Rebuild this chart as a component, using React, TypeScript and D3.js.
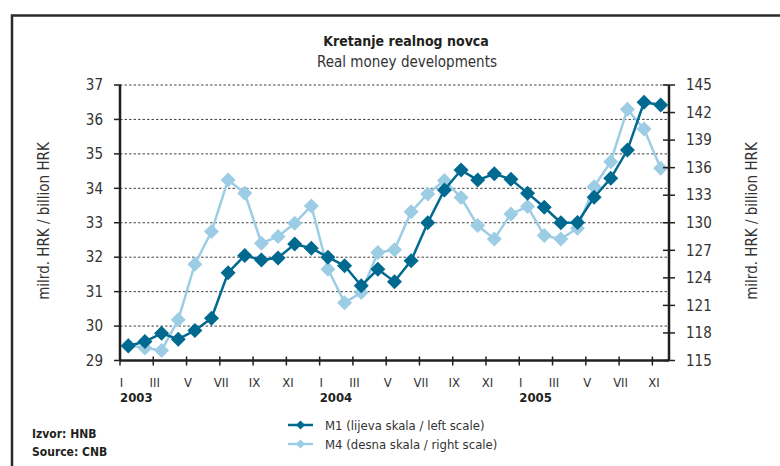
import React from "react";
import * as d3 from "d3";

// monthly data, Jan 2003 - Sep 2005
const months = d3.range(33);

const m1 = [
  29.42, 29.55, 29.79, 29.62, 29.87, 30.23, 31.55, 32.05, 31.92, 31.98, 32.38, 32.26,
  32.0, 31.75, 31.17, 31.65, 31.29, 31.9, 33.0, 33.95, 34.53, 34.24, 34.42, 34.26,
  33.86, 33.45, 33.0, 33.01, 33.74, 34.29, 35.11, 36.5, 36.42,
];

const m4 = [
  116.7, 116.35, 116.1, 119.43, 125.49, 129.04, 134.66, 133.21, 127.77, 128.5, 129.95, 131.83,
  124.95, 121.3, 122.4, 126.75, 127.05, 131.2, 133.14, 134.6, 132.74, 129.69, 128.24, 130.96,
  131.76, 128.6, 128.24, 129.4, 133.93, 136.65, 142.36, 140.2, 135.94,
];

const monthLabels = [
  "I", "III", "V", "VII", "IX", "XI",
  "I", "III", "V", "VII", "IX", "XI",
  "I", "III", "V", "VII", "XI",
];
const years = ["2003", "2004", "2005"];

const leftTicks = d3.range(29, 38);
const rightTicks = d3.range(115, 146, 3);

const DARK = "#006990";
const LIGHT = "#9dcde4";
const AXIS = "#231f20";
const FONT = "'Liberation Sans Narrow', 'DejaVu Sans Condensed', 'Open Sans', sans-serif";

const diamond = (cx: number, cy: number, r: number) =>
  `M${cx},${cy - r}L${cx + r},${cy}L${cx},${cy + r}L${cx - r},${cy}Z`;

export default function App() {
  const left = 120;
  const right = 669;
  const top = 85;
  const bottom = 360.5;

  const x = d3.scaleBand<number>().domain(months).range([left, right]);
  const cx = (i: number) => (x(i) as number) + x.bandwidth() / 2;
  const yL = d3.scaleLinear().domain([29, 37]).range([bottom, top]);
  const yR = d3.scaleLinear().domain([115, 145]).range([bottom, top]);

  const lineL = d3.line<number>().x((d, i) => cx(i)).y((d) => yL(d));
  const lineR = d3.line<number>().x((d, i) => cx(i)).y((d) => yR(d));

  const tickIdx = months.filter((i) => i % 2 === 0);

  return (
    <svg
      width={780}
      height={466}
      style={{ position: "absolute", left: 0, top: 0, background: "#fff" }}
      fontFamily={FONT}
    >
      <rect x={12} y={15.5} width={800} height={500} fill="none" stroke="#2b2b2b" strokeWidth={2.5} />

      <text x={406} y={46} textAnchor="middle" fontSize={14} fontWeight="bold" fill="#231f20">
        Kretanje realnog novca
      </text>
      <text x={407} y={67} textAnchor="middle" fontSize={15} fill="#333">
        Real money developments
      </text>

      {/* grid */}
      {leftTicks.slice(1).map((t) => (
        <line key={t} x1={left} x2={right} y1={yL(t)} y2={yL(t)} stroke="#444" strokeWidth={1} strokeDasharray="2.5,2" />
      ))}

      {/* series */}
      <path d={lineR(m4) as string} fill="none" stroke={LIGHT} strokeWidth={2.5} />
      {m4.map((v, i) => (
        <path key={i} d={diamond(cx(i), yR(v), 7.5)} fill={LIGHT} />
      ))}
      <path d={lineL(m1) as string} fill="none" stroke={DARK} strokeWidth={2.5} />
      {m1.map((v, i) => (
        <path key={i} d={diamond(cx(i), yL(v), 7.5)} fill={DARK} />
      ))}

      {/* axes */}
      <line x1={left} x2={left} y1={top} y2={bottom} stroke={AXIS} strokeWidth={2.5} />
      <line x1={right} x2={right} y1={top} y2={bottom} stroke={AXIS} strokeWidth={2.5} />
      <line x1={left} x2={right} y1={bottom} y2={bottom} stroke={AXIS} strokeWidth={2.5} />

      {leftTicks.map((t) => (
        <g key={t}>
          <line x1={left - 6} x2={left + 1} y1={yL(t)} y2={yL(t)} stroke={AXIS} strokeWidth={1.5} />
          <text x={103} y={yL(t)} dy="0.35em" textAnchor="end" fontSize={15} fill="#333">
            {t}
          </text>
        </g>
      ))}
      {rightTicks.map((t) => (
        <g key={t}>
          <line x1={right - 6} x2={right + 6} y1={yR(t)} y2={yR(t)} stroke={AXIS} strokeWidth={1.5} />
          <text x={686} y={yR(t)} dy="0.35em" textAnchor="start" fontSize={15} fill="#333">
            {t}
          </text>
        </g>
      ))}
      {tickIdx.map((i, k) => (
        <g key={i}>
          <line x1={x(i) as number} x2={x(i) as number} y1={bottom - 4} y2={bottom + 5} stroke={AXIS} strokeWidth={1.5} />
          <text x={(x(i) as number) + 1.5} y={387} textAnchor="middle" fontSize={13} fill="#333">
            {monthLabels[k]}
          </text>
        </g>
      ))}
      {years.map((yr, k) => (
        <text key={yr} x={x(k * 12) as number} y={402} fontSize={13} fontWeight="bold" fill="#231f20">
          {yr}
        </text>
      ))}

      <text transform="translate(49,221) rotate(-90)" textAnchor="middle" fontSize={15} fill="#333">
        milrd. HRK / billion HRK
      </text>
      <text transform="translate(757,221) rotate(-90)" textAnchor="middle" fontSize={15} fill="#333">
        milrd. HRK / billion HRK
      </text>

      {/* legend */}
      <line x1={288} x2={313} y1={425} y2={425} stroke={DARK} strokeWidth={2.5} />
      <path d={diamond(300.5, 425, 4.5)} fill={DARK} />
      <text x={325} y={425} dy="0.35em" fontSize={13} fill="#333">
        M1 (lijeva skala / left scale)
      </text>
      <line x1={288} x2={313} y1={444} y2={444} stroke={LIGHT} strokeWidth={2.5} />
      <path d={diamond(300.5, 444, 4.5)} fill={LIGHT} />
      <text x={325} y={444} dy="0.35em" fontSize={13} fill="#333">
        M4 (desna skala / right scale)
      </text>

      <text x={32} y={438} fontSize={12} fontWeight="bold" fill="#231f20">
        Izvor: HNB
      </text>
      <text x={32} y={456} fontSize={12} fontWeight="bold" fill="#231f20">
        Source: CNB
      </text>
    </svg>
  );
}
